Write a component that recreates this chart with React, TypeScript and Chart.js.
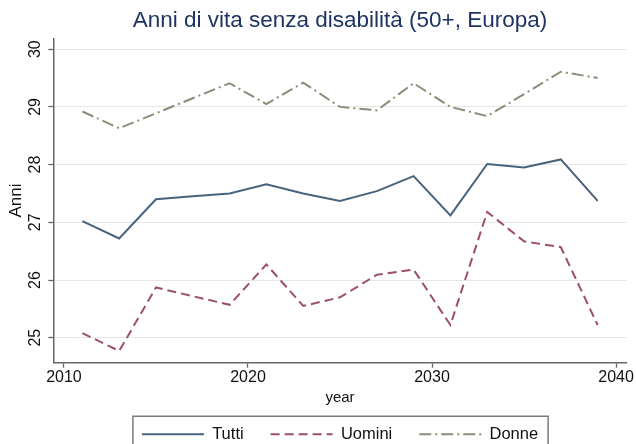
import React, { useEffect, useRef } from "react";
import { Chart, registerables } from "chart.js";

Chart.register(...registerables);

const titleText = "Anni di vita senza disabilità (50+, Europa)";
const xAxisTitle = "year";
const yAxisTitle = "Anni";
const seriesLabels = ["Tutti", "Uomini", "Donne"];

const years = [2011, 2013, 2015, 2017, 2019, 2021, 2023, 2025, 2027, 2029, 2031, 2033, 2035, 2037, 2039];
const tutti = [27.02, 26.72, 27.4, 27.45, 27.5, 27.66, 27.5, 27.37, 27.54, 27.8, 27.12, 28.01, 27.95, 28.09, 27.37];
const uomini = [25.08, 24.77, 25.87, 25.72, 25.57, 26.27, 25.55, 25.7, 26.09, 26.18, 25.22, 27.18, 26.67, 26.57, 25.22];
const donne = [28.92, 28.63, 28.89, 29.15, 29.41, 29.05, 29.42, 29.0, 28.94, 29.41, 29.0, 28.84, 29.22, 29.61, 29.5];

const xTicks = [2010, 2020, 2030, 2040];
const yTicks = [25, 26, 27, 28, 29, 30];

const FONT = "'Liberation Sans', Arial, Helvetica, sans-serif";
const AXIS = "#666666";

export default function App() {
  const ref = useRef<HTMLCanvasElement>(null);

  useEffect(() => {
    document.body.style.margin = "0";
    const canvas = ref.current;
    if (!canvas) return;

    const legendBox = {
      id: "legendBox",
      afterDraw(chart: any) {
        const lg = chart.legend;
        if (!lg || !lg.legendHitBoxes || !lg.legendHitBoxes.length) return;
        const hb = lg.legendHitBoxes;
        const left = Math.min(...hb.map((h: any) => h.left)) - 9;
        const right = Math.max(...hb.map((h: any) => h.left + h.width)) + 10;
        const cy = hb[0].top + hb[0].height / 2;
        const top = cy - 18;
        const ctx = chart.ctx;
        ctx.save();
        ctx.strokeStyle = "#7a7a7a";
        ctx.lineWidth = 1.5;
        ctx.strokeRect(left, top, right - left, 60);
        ctx.restore();
      },
    };

    const mk = (label: string, vals: number[], color: string, dash: number[]) => ({
      label,
      data: years.map((x, i) => ({ x, y: vals[i] })),
      borderColor: color,
      backgroundColor: color,
      borderWidth: 2,
      borderDash: dash,
      pointRadius: 0,
      tension: 0,
      fill: false,
    });

    const chart = new Chart(canvas, {
      type: "line",
      data: {
        datasets: [
          mk(seriesLabels[0], tutti, "#47637d", []),
          mk(seriesLabels[1], uomini, "#9c4f66", [9, 5]),
          mk(seriesLabels[2], donne, "#8a8e78", [12, 4, 2, 4]),
        ],
      },
      options: {
        responsive: false,
        animation: false,
        devicePixelRatio: 1,
        layout: { padding: { left: 0, right: 9.3, top: 0, bottom: 0 } },
        plugins: {
          title: {
            display: true,
            text: titleText,
            color: "#1e3461",
            fullSize: false,
            font: { family: FONT, size: 22.5, weight: "normal" },
            padding: { top: 7, bottom: 4.4 },
          },
          legend: {
            display: true,
            position: "bottom",
            fullSize: false,
            maxHeight: 45,
            labels: {
              usePointStyle: true,
              pointStyleWidth: 62,
              padding: 27,
              color: "#111111",
              font: { family: FONT, size: 16.5 },
              generateLabels: (chart: any) =>
                chart.data.datasets.map((ds: any, i: number) => ({
                  text: ds.label,
                  fillStyle: "rgba(0,0,0,0)",
                  strokeStyle: ds.borderColor,
                  lineWidth: 2,
                  lineDash: ds.borderDash,
                  lineCap: "butt",
                  pointStyle: "line",
                  hidden: false,
                  datasetIndex: i,
                  fontColor: "#111111",
                })),
            },
          },
          tooltip: { enabled: false },
        },
        scales: {
          x: {
            type: "linear",
            min: 2009.42,
            max: 2040.58,
            afterBuildTicks: (axis: any) => {
              axis.ticks = xTicks.map((v) => ({ value: v }));
            },
            afterFit: (scale: any) => {
              scale.height = 36.3;
            },
            ticks: {
              font: { family: FONT, size: 16 },
              color: "#111111",
              padding: 0,
              maxRotation: 0,
              autoSkip: false,
              callback: (v: any) => String(v),
            },
            grid: { drawOnChartArea: false, drawTicks: true, tickLength: 5, tickColor: AXIS, tickWidth: 1.3 },
            border: { display: true, color: AXIS, width: 1.5 },
            title: {
              display: true,
              text: xAxisTitle,
              color: "#111111",
              font: { family: FONT, size: 15 },
              padding: { top: 0, bottom: -8 },
            },
          },
          y: {
            type: "linear",
            min: 24.567,
            max: 30.187,
            afterBuildTicks: (axis: any) => {
              axis.ticks = yTicks.map((v) => ({ value: v }));
            },
            afterFit: (scale: any) => {
              scale.width = 53.3;
            },
            ticks: {
              font: { family: FONT, size: 16 },
              color: "#111111",
              padding: 4,
              minRotation: 90,
              maxRotation: 90,
              crossAlign: "center",
              autoSkip: false,
              callback: (v: any) => String(v),
            },
            grid: { color: "#e6e6e6", lineWidth: 1, drawTicks: true, tickLength: 5, tickColor: AXIS, tickWidth: 1.3 },
            border: { display: true, color: AXIS, width: 1.5 },
            title: {
              display: true,
              text: yAxisTitle,
              color: "#111111",
              font: { family: FONT, size: 17 },
              padding: { top: 6, bottom: 0 },
            },
          },
        },
      },
      plugins: [legendBox],
    } as any);

    return () => chart.destroy();
  }, []);

  return (
    <div style={{ width: 636, height: 444 }}>
      <canvas ref={ref} width={636} height={444} style={{ display: "block" }} />
    </div>
  );
}
